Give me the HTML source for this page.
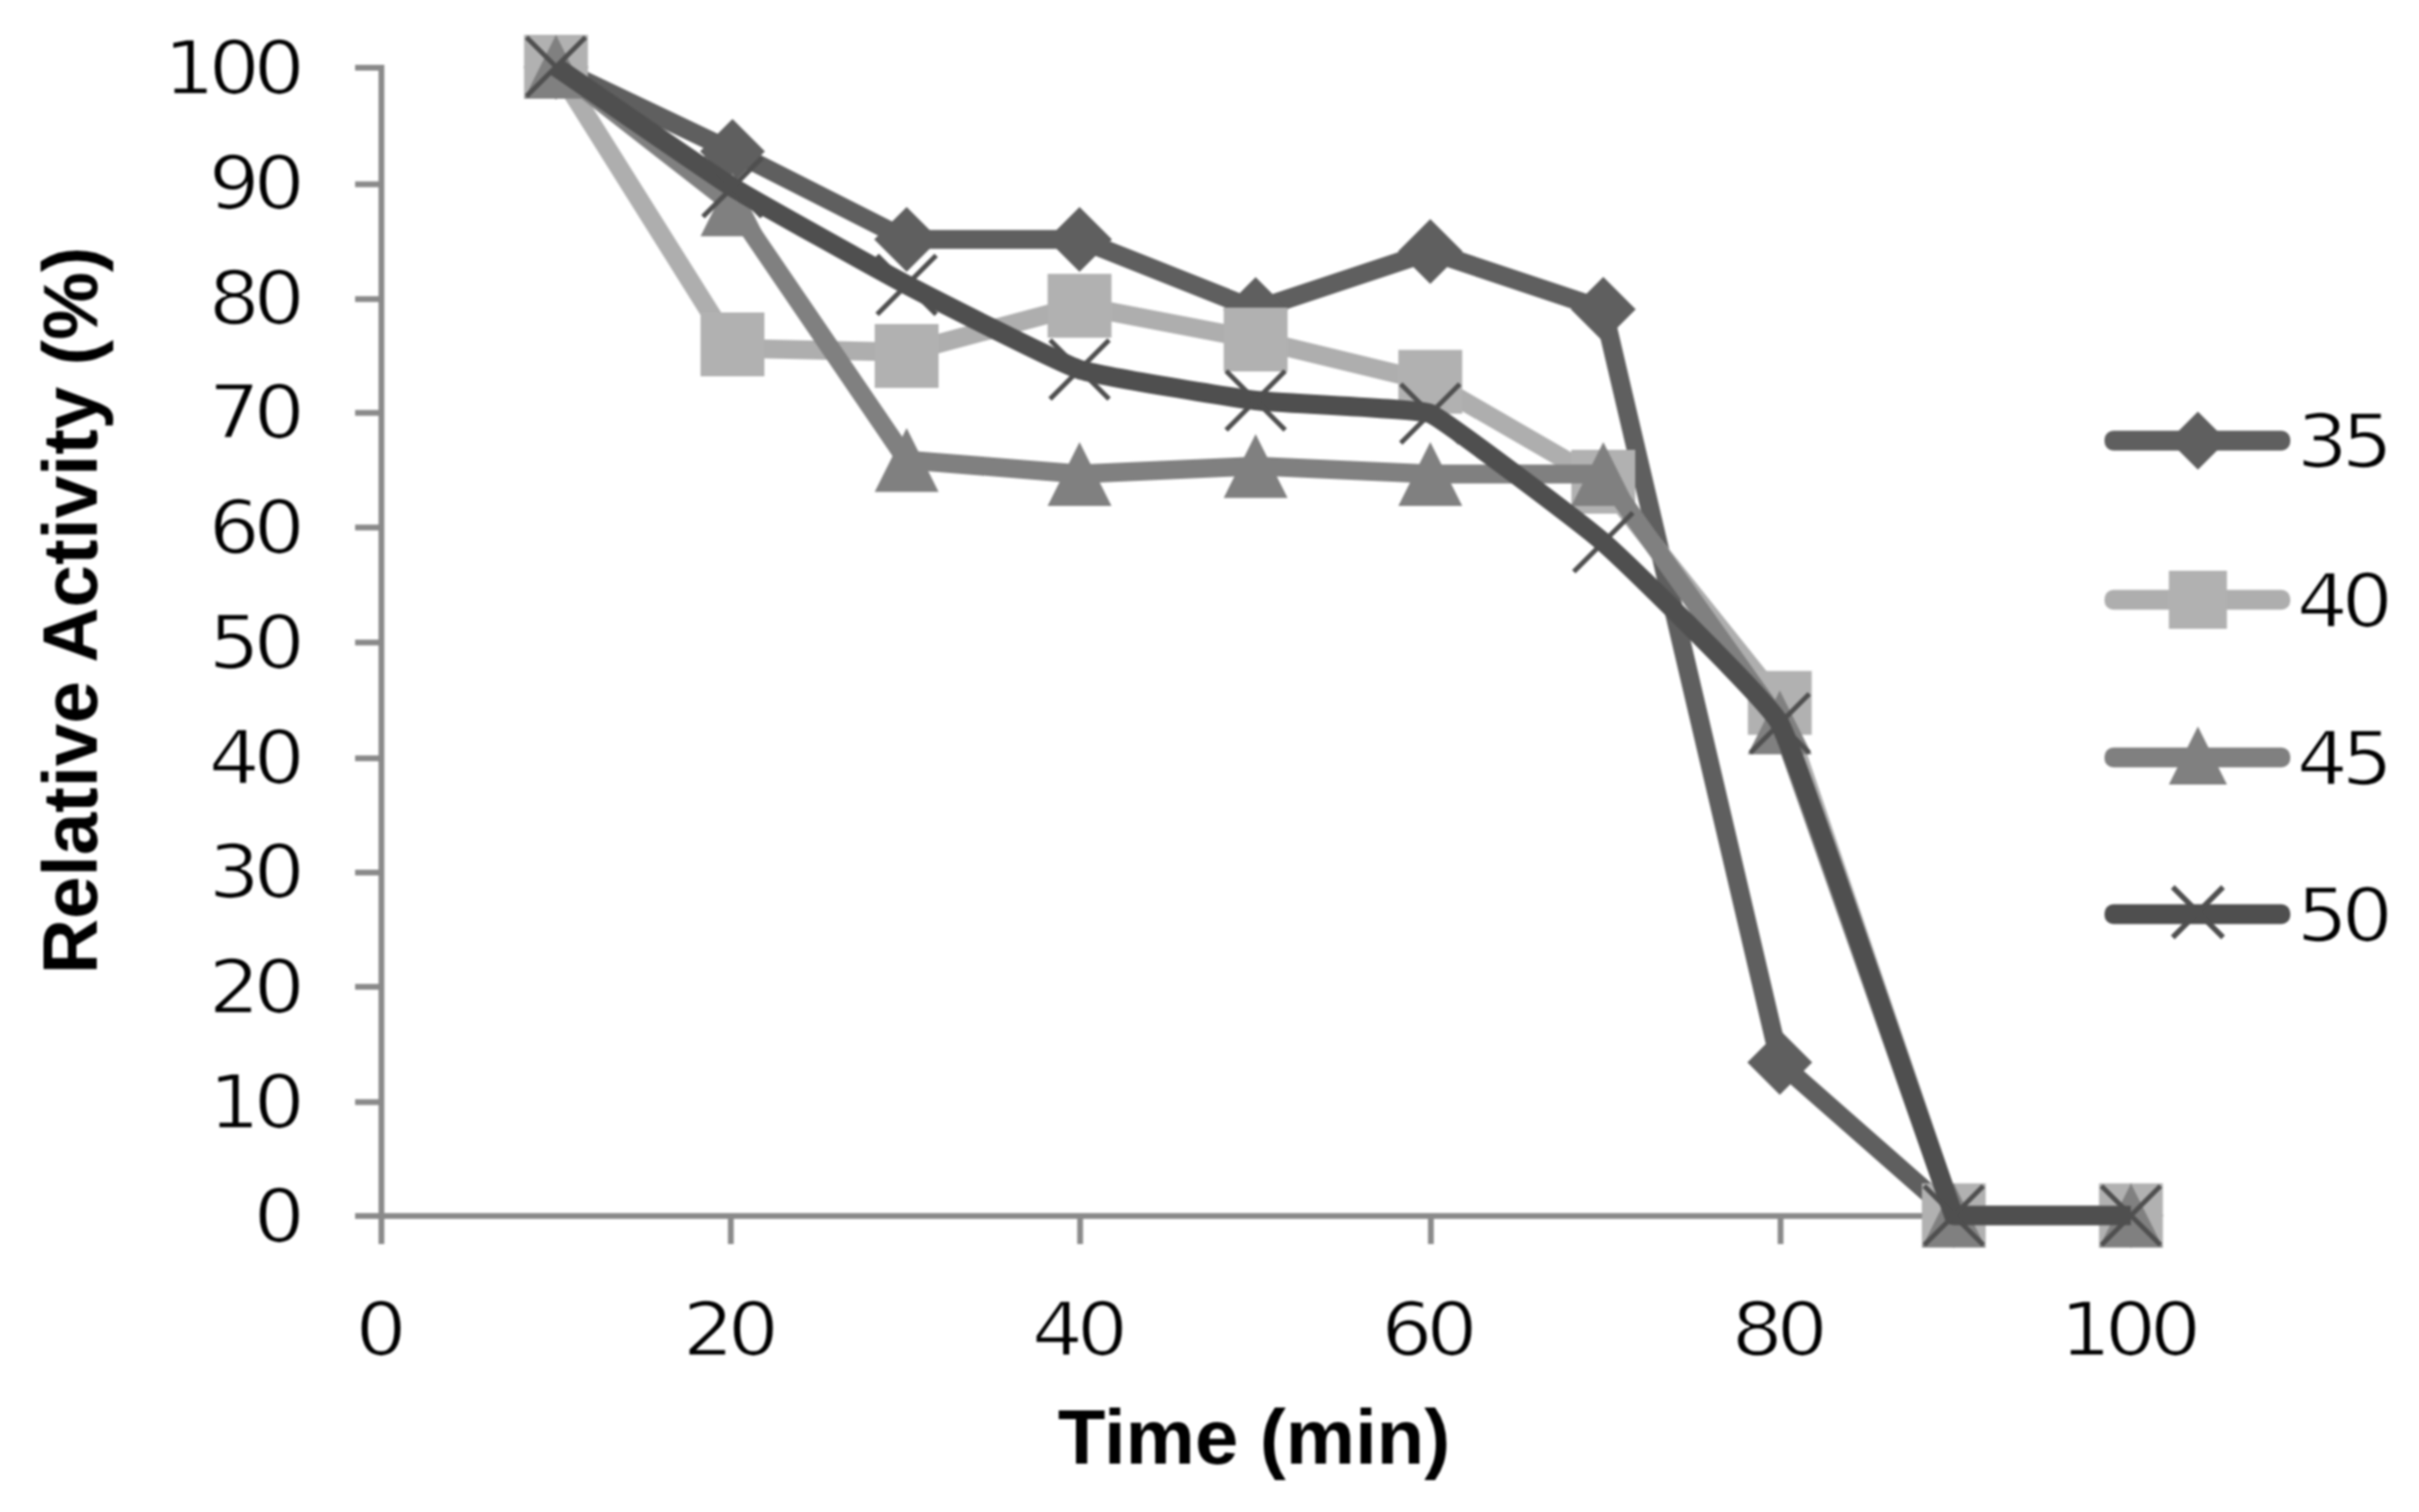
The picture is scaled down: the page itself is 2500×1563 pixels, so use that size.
<!DOCTYPE html>
<html lang="en"><head><meta charset="utf-8"><title>Relative Activity vs Time</title>
<style>html,body{margin:0;padding:0;background:#fff}body{width:2500px;height:1563px;overflow:hidden}svg{display:block;filter:blur(1.1px)}.t{font-family:"DejaVu Sans","Liberation Sans",sans-serif;font-size:77.2px;letter-spacing:-6.2px;fill:#000;stroke:#fff;stroke-width:1.7px}.b{font-family:"Liberation Sans",Arial,sans-serif;font-weight:bold;font-size:80.5px;fill:#000}</style></head><body>
<svg width="2500" height="1563" viewBox="0 0 2500 1563">
<rect width="2500" height="1563" fill="#fff"/>
<g stroke="#8a8a8a" stroke-width="6" fill="none">
<line x1="394.2" y1="67" x2="394.2" y2="1286"/>
<line x1="367" y1="1257.0" x2="2202" y2="1257.0"/>
<line x1="367" y1="1139.3" x2="394.2" y2="1139.3"/>
<line x1="367" y1="1020.1" x2="394.2" y2="1020.1"/>
<line x1="367" y1="902.0" x2="394.2" y2="902.0"/>
<line x1="367" y1="783.9" x2="394.2" y2="783.9"/>
<line x1="367" y1="664.2" x2="394.2" y2="664.2"/>
<line x1="367" y1="545.3" x2="394.2" y2="545.3"/>
<line x1="367" y1="426.8" x2="394.2" y2="426.8"/>
<line x1="367" y1="309.2" x2="394.2" y2="309.2"/>
<line x1="367" y1="190.5" x2="394.2" y2="190.5"/>
<line x1="367" y1="70.0" x2="394.2" y2="70.0"/>
<line x1="755.3" y1="1257.0" x2="755.3" y2="1286"/>
<line x1="1116.3" y1="1257.0" x2="1116.3" y2="1286"/>
<line x1="1478.8" y1="1257.0" x2="1478.8" y2="1286"/>
<line x1="1840.2" y1="1257.0" x2="1840.2" y2="1286"/>
<line x1="2201.7" y1="1257.0" x2="2201.7" y2="1286"/>
</g>
<g class="t" text-anchor="end">
<text transform="translate(308.6,1284.4) scale(1.084,1)">0</text>
<text transform="translate(308.6,1165.7) scale(1.084,1)">10</text>
<text transform="translate(308.6,1046.9) scale(1.084,1)">20</text>
<text transform="translate(308.6,928.2) scale(1.084,1)">30</text>
<text transform="translate(308.6,809.5) scale(1.084,1)">40</text>
<text transform="translate(308.6,690.8) scale(1.084,1)">50</text>
<text transform="translate(308.6,572.0) scale(1.084,1)">60</text>
<text transform="translate(308.6,453.3) scale(1.084,1)">70</text>
<text transform="translate(308.6,334.6) scale(1.084,1)">80</text>
<text transform="translate(308.6,215.8) scale(1.084,1)">90</text>
<text transform="translate(308.6,97.1) scale(1.084,1)">100</text>
</g>
<g class="t" text-anchor="middle">
<text transform="translate(390.4,1400.5) scale(1.084,1)">0</text>
<text transform="translate(752.1,1400.5) scale(1.084,1)">20</text>
<text transform="translate(1112.8,1400.5) scale(1.084,1)">40</text>
<text transform="translate(1474.0,1400.5) scale(1.084,1)">60</text>
<text transform="translate(1836.0,1400.5) scale(1.084,1)">80</text>
<text transform="translate(2198.6,1400.5) scale(1.084,1)">100</text>
</g>
<text class="b" x="1296" y="1513" text-anchor="middle">Time (min)</text>
<text class="b" transform="translate(100,631) rotate(-90)" text-anchor="middle" textLength="752" lengthAdjust="spacingAndGlyphs">Relative Activity (%)</text>
<g><polyline points="574.6,69.5 757.0,156.4 937.0,247.5 1115.7,247.5 1297.7,320.0 1478.2,260.0 1657.0,319.8 1839.4,1098.2 2019.2,1256.5 2202.3,1256.5" fill="none" stroke="#5f5f5f" stroke-width="19.5" stroke-linejoin="round" stroke-linecap="butt"/><polygon points="574.6,36.0 608.1,69.5 574.6,103.0 541.1,69.5" fill="#5f5f5f"/><polygon points="757.0,122.9 790.5,156.4 757.0,189.9 723.5,156.4" fill="#5f5f5f"/><polygon points="937.0,214.0 970.5,247.5 937.0,281.0 903.5,247.5" fill="#5f5f5f"/><polygon points="1115.7,214.0 1149.2,247.5 1115.7,281.0 1082.2,247.5" fill="#5f5f5f"/><polygon points="1297.7,286.5 1331.2,320.0 1297.7,353.5 1264.2,320.0" fill="#5f5f5f"/><polygon points="1478.2,226.5 1511.7,260.0 1478.2,293.5 1444.7,260.0" fill="#5f5f5f"/><polygon points="1657.0,286.3 1690.5,319.8 1657.0,353.3 1623.5,319.8" fill="#5f5f5f"/><polygon points="1839.4,1064.7 1872.9,1098.2 1839.4,1131.7 1805.9,1098.2" fill="#5f5f5f"/><polygon points="2019.2,1223.0 2052.7,1256.5 2019.2,1290.0 1985.7,1256.5" fill="#5f5f5f"/><polygon points="2202.3,1223.0 2235.8,1256.5 2202.3,1290.0 2168.8,1256.5" fill="#5f5f5f"/></g>
<g><polyline points="574.6,69.0 757.0,360.0 937.0,364.0 1115.7,316.1 1297.7,351.0 1478.2,394.7 1657.0,498.0 1839.4,726.6 2019.2,1256.3 2202.3,1256.3" fill="none" stroke="#aeaeae" stroke-width="19.5" stroke-linejoin="round" stroke-linecap="butt"/><rect x="541.6" y="36.0" width="66" height="66" fill="#b1b1b1"/><rect x="724.0" y="323.0" width="66" height="66" fill="#b1b1b1"/><rect x="904.0" y="335.0" width="66" height="66" fill="#b1b1b1"/><rect x="1082.7" y="283.1" width="66" height="66" fill="#b1b1b1"/><rect x="1264.7" y="318.0" width="66" height="66" fill="#b1b1b1"/><rect x="1445.2" y="361.7" width="66" height="66" fill="#b1b1b1"/><rect x="1624.0" y="465.0" width="66" height="66" fill="#b1b1b1"/><rect x="1806.4" y="693.6" width="66" height="66" fill="#b1b1b1"/><rect x="1986.2" y="1223.3" width="66" height="66" fill="#b1b1b1"/><rect x="2169.3" y="1223.3" width="66" height="66" fill="#b1b1b1"/></g>
<g><polyline points="574.6,69.0 757.0,211.3 937.0,475.5 1115.7,490.0 1297.7,481.7 1478.2,490.0 1657.0,490.0 1839.4,746.8 2019.2,1256.5 2202.3,1256.5" fill="none" stroke="#808080" stroke-width="19.5" stroke-linejoin="round" stroke-linecap="butt"/><polygon points="574.6,36.0 607.6,102.0 541.6,102.0" fill="#808080"/><polygon points="757.0,178.3 790.0,244.3 724.0,244.3" fill="#808080"/><polygon points="937.0,442.5 970.0,508.5 904.0,508.5" fill="#808080"/><polygon points="1115.7,457.0 1148.7,523.0 1082.7,523.0" fill="#808080"/><polygon points="1297.7,448.7 1330.7,514.7 1264.7,514.7" fill="#808080"/><polygon points="1478.2,457.0 1511.2,523.0 1445.2,523.0" fill="#808080"/><polygon points="1657.0,457.0 1690.0,523.0 1624.0,523.0" fill="#808080"/><polygon points="1839.4,713.8 1872.4,779.8 1806.4,779.8" fill="#808080"/><polygon points="2019.2,1223.5 2052.2,1289.5 1986.2,1289.5" fill="#808080"/><polygon points="2202.3,1223.5 2235.3,1289.5 2169.3,1289.5" fill="#808080"/></g>
<g><path d="M574.6,69.0 C585.5,76.5 735.3,180.1 757.0,193.6 C778.7,207.1 915.5,283.1 937.0,294.4 C958.5,305.7 1094.1,374.8 1115.7,382.0 C1137.3,389.2 1276.0,411.3 1297.7,414.0 C1319.5,416.7 1465.6,422.4 1478.2,427.5 C1490.8,432.6 1635.3,541.4 1657.0,560.6 C1678.7,579.8 1826.7,723.4 1839.4,747.8 C1857.5,782.6 1974.2,1129.3 2019.2,1256.5 L2202.3,1256.5" fill="none" stroke="#4f4f4f" stroke-width="20" stroke-linejoin="round" stroke-linecap="butt"/><path d="M544.1,38.5L605.1,99.5M544.1,99.5L605.1,38.5" stroke="#4f4f4f" stroke-width="5" stroke-linecap="butt" fill="none"/><path d="M726.5,163.1L787.5,224.1M726.5,224.1L787.5,163.1" stroke="#4f4f4f" stroke-width="5" stroke-linecap="butt" fill="none"/><path d="M906.5,263.9L967.5,324.9M906.5,324.9L967.5,263.9" stroke="#4f4f4f" stroke-width="5" stroke-linecap="butt" fill="none"/><path d="M1085.2,351.5L1146.2,412.5M1085.2,412.5L1146.2,351.5" stroke="#4f4f4f" stroke-width="5" stroke-linecap="butt" fill="none"/><path d="M1267.2,383.5L1328.2,444.5M1267.2,444.5L1328.2,383.5" stroke="#4f4f4f" stroke-width="5" stroke-linecap="butt" fill="none"/><path d="M1447.7,397.0L1508.7,458.0M1447.7,458.0L1508.7,397.0" stroke="#4f4f4f" stroke-width="5" stroke-linecap="butt" fill="none"/><path d="M1626.5,530.1L1687.5,591.1M1626.5,591.1L1687.5,530.1" stroke="#4f4f4f" stroke-width="5" stroke-linecap="butt" fill="none"/><path d="M1808.9,717.3L1869.9,778.3M1808.9,778.3L1869.9,717.3" stroke="#4f4f4f" stroke-width="5" stroke-linecap="butt" fill="none"/><path d="M1988.7,1226.0L2049.7,1287.0M1988.7,1287.0L2049.7,1226.0" stroke="#4f4f4f" stroke-width="5" stroke-linecap="butt" fill="none"/><path d="M2171.8,1226.0L2232.8,1287.0M2171.8,1287.0L2232.8,1226.0" stroke="#4f4f4f" stroke-width="5" stroke-linecap="butt" fill="none"/></g>
<g>
<rect x="2175" y="445.3" width="192" height="20.4" rx="9" fill="#5f5f5f"/><polygon points="2271.5,425.5 2301.5,455.5 2271.5,485.5 2241.5,455.5" fill="#5f5f5f"/>
<rect x="2175" y="609.8" width="192" height="20.4" rx="9" fill="#aeaeae"/><rect x="2241.5" y="590.0" width="60" height="60" fill="#b1b1b1"/>
<rect x="2175" y="772.8" width="192" height="20.4" rx="9" fill="#808080"/><polygon points="2271.5,751.0 2301.5,811.0 2241.5,811.0" fill="#808080"/>
<rect x="2175" y="934.8" width="192" height="20.4" rx="9" fill="#4f4f4f"/><path d="M2245.5,917.0L2297.5,969.0M2245.5,969.0L2297.5,917.0" stroke="#4f4f4f" stroke-width="5.5" stroke-linecap="butt" fill="none"/>
</g>
<g class="t">
<text transform="translate(2373.5,483.0) scale(1.084,1)">35</text>
<text transform="translate(2373.5,647.5) scale(1.084,1)">40</text>
<text transform="translate(2373.5,810.5) scale(1.084,1)">45</text>
<text transform="translate(2373.5,972.5) scale(1.084,1)">50</text>
</g>
</svg></body></html>
